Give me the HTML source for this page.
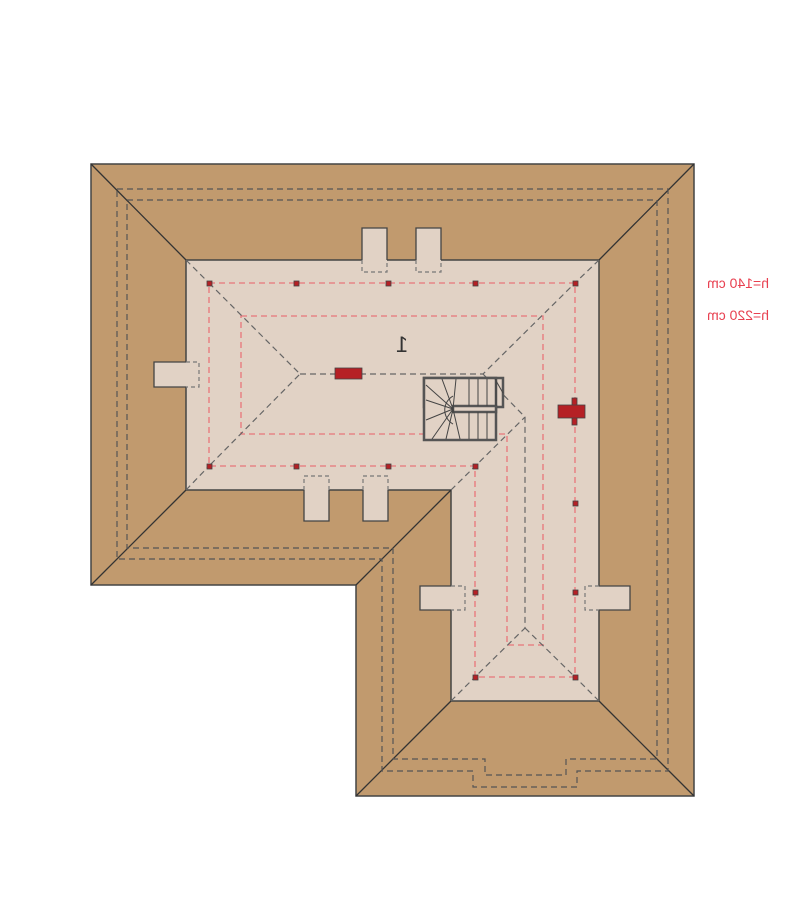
<!DOCTYPE html>
<html><head><style>body{margin:0;background:#fff}svg{display:block}</style></head><body>
<svg width="800" height="921" viewBox="0 0 800 921" xmlns="http://www.w3.org/2000/svg">
<rect width="800" height="921" fill="#fff"/>
<polygon points="91,164 694,164 694,796 356,796 356,585 91,585" fill="#c19a6e" stroke="#444" stroke-width="1.5"/>
<polygon points="186,260 599,260 599,701 451,701 451,490 186,490" fill="#e1d2c5" stroke="#444" stroke-width="1.5"/>
<g stroke="#333" stroke-width="1.3">
<line x1="91" y1="164" x2="186" y2="260"/><line x1="694" y1="164" x2="599" y2="260"/>
<line x1="694" y1="796" x2="599" y2="701"/><line x1="356" y1="796" x2="451" y2="701"/>
<line x1="91" y1="585" x2="186" y2="490"/><line x1="356" y1="585" x2="451" y2="490"/>
</g>
<g fill="none" stroke="#555" stroke-width="1.2" stroke-dasharray="6,4">
<polygon points="117,189 668,189 668,771 577,771 577,787 473,787 473,771 382,771 382,559 117,559"/>
<polygon points="127,200 657,200 657,759 566,759 566,775 485,775 485,759 393,759 393,548 127,548"/>
</g>
<g fill="#e1d2c5" stroke="none">
<rect x="362" y="228" width="25" height="44"/><rect x="416" y="228" width="25" height="44"/>
<rect x="304" y="476" width="25" height="45"/><rect x="363" y="476" width="25" height="45"/>
<rect x="154" y="362" width="45" height="25"/>
<rect x="420" y="586" width="45" height="24"/><rect x="585" y="586" width="45" height="24"/>
</g>
<g fill="none" stroke="#444" stroke-width="1.3">
<polyline points="362,260 362,228 387,228 387,260"/><polyline points="416,260 416,228 441,228 441,260"/>
<polyline points="304,490 304,521 329,521 329,490"/><polyline points="363,490 363,521 388,521 388,490"/>
<polyline points="186,362 154,362 154,387 186,387"/>
<polyline points="451,586 420,586 420,610 451,610"/><polyline points="599,586 630,586 630,610 599,610"/>
</g>
<g fill="none" stroke="#777" stroke-width="1.2" stroke-dasharray="4,3">
<polyline points="362,260 362,272 387,272 387,260"/><polyline points="416,260 416,272 441,272 441,260"/>
<polyline points="304,490 304,476 329,476 329,490"/><polyline points="363,490 363,476 388,476 388,490"/>
<polyline points="186,362 199,362 199,387 186,387"/>
<polyline points="451,586 465,586 465,610 451,610"/><polyline points="599,586 585,586 585,610 599,610"/>
</g>
<g fill="none" stroke="#e8757a" stroke-width="1.3" stroke-dasharray="6,4">
<polygon points="209,283 575,283 575,677 475,677 475,466 209,466"/>
<polygon points="241,316 543,316 543,645 507,645 507,434 241,434"/>
</g>
<g fill="none" stroke="#666" stroke-width="1.2" stroke-dasharray="6,4">
<polyline points="209,283 300,374 209,466"/>
<polyline points="300,374 483,374 575,283"/>
<polyline points="483,374 525,417 525,628 475,677"/>
<line x1="525" y1="628" x2="575" y2="677"/>
<line x1="451" y1="490" x2="525" y2="417"/>
<line x1="186" y1="260" x2="209" y2="283"/><line x1="599" y1="260" x2="575" y2="283"/>
<line x1="186" y1="490" x2="209" y2="466"/><line x1="451" y1="701" x2="475" y2="677"/><line x1="599" y1="701" x2="575" y2="677"/>
</g>
<g fill="#b52025" stroke="#444" stroke-width="0.8">
<rect x="207" y="281" width="5" height="5"/><rect x="294" y="281" width="5" height="5"/><rect x="386" y="281" width="5" height="5"/><rect x="473" y="281" width="5" height="5"/><rect x="573" y="281" width="5" height="5"/>
<rect x="207" y="464" width="5" height="5"/><rect x="294" y="464" width="5" height="5"/><rect x="386" y="464" width="5" height="5"/><rect x="473" y="464" width="5" height="5"/>
<rect x="573" y="501" width="5" height="5"/><rect x="473" y="590" width="5" height="5"/><rect x="573" y="590" width="5" height="5"/>
<rect x="473" y="675" width="5" height="5"/><rect x="573" y="675" width="5" height="5"/>
<rect x="335" y="368" width="27" height="11"/>
<rect x="572" y="398" width="5" height="27"/><rect x="558" y="405" width="27" height="13"/>
</g>
<g fill="#e1d2c5" stroke="#555" stroke-width="2.5">
<rect x="424" y="378" width="79" height="29"/>
<rect x="424" y="378" width="72" height="62"/>
<rect x="453" y="406" width="43" height="6"/>
</g>
<g stroke="#444" stroke-width="1" fill="none">
<line x1="469" y1="379" x2="469" y2="406"/><line x1="478" y1="379" x2="478" y2="406"/><line x1="487" y1="379" x2="487" y2="406"/><line x1="496" y1="379" x2="496" y2="406"/>
<line x1="469" y1="412" x2="469" y2="439"/><line x1="478" y1="412" x2="478" y2="439"/><line x1="487" y1="412" x2="487" y2="439"/>
<line x1="453" y1="409" x2="426" y2="385"/><line x1="453" y1="409" x2="442" y2="379"/><line x1="453" y1="409" x2="456" y2="379"/><line x1="453" y1="409" x2="426" y2="400"/><line x1="453" y1="409" x2="426" y2="420"/><line x1="453" y1="409" x2="432" y2="439"/><line x1="453" y1="409" x2="446" y2="439"/><line x1="453" y1="409" x2="460" y2="439"/>
<path d="M453,396 A16,16 0 0 0 453,424"/>
<line x1="495" y1="379" x2="503" y2="393"/>
</g>
<text x="-402" y="352" transform="scale(-1,1)" font-family="Liberation Sans, sans-serif" font-size="22" fill="#333" text-anchor="middle">1</text>
<g font-family="Liberation Sans, sans-serif" font-size="14" fill="#e84050" text-anchor="middle" transform="scale(-1,1)">
<text x="-738" y="288">h=140 cm</text>
<text x="-738" y="320">h=220 cm</text>
</g>
</svg>
</body></html>
